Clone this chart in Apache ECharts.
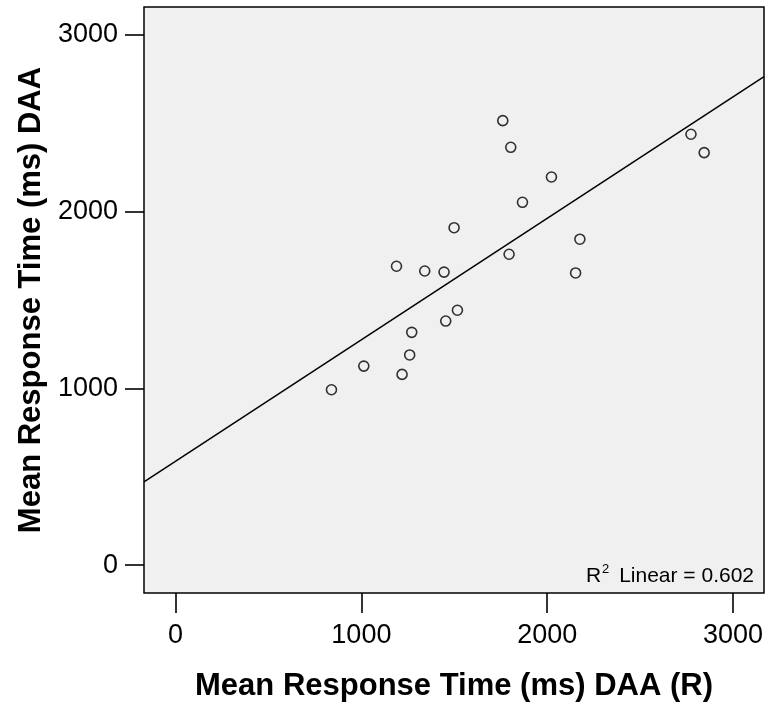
<!DOCTYPE html>
<html>
<head>
<meta charset="utf-8">
<script src="https://cdn.jsdelivr.net/npm/echarts@6/dist/echarts.min.js"></script>
<style>html,body{margin:0;padding:0;background:#fff}#c{width:770px;height:702px}</style>
</head>
<body>
<div id="c"></div>
<script>
var xValues = [1761, 1804, 2023, 1867, 1499, 2176, 1795, 2153, 1189, 1341, 1445, 1517, 1454, 1271, 1260, 1013, 1219, 839, 2774, 2845];
var yValues = [2515, 2364, 2196, 2053, 1909, 1844, 1759, 1653, 1691, 1664, 1658, 1442, 1381, 1317, 1189, 1126, 1079, 992, 2438, 2334];
var tickValues = [0, 1000, 2000, 3000];
var xTitle = 'Mean Response Time (ms) DAA (R)';
var yTitle = 'Mean Response Time (ms) DAA';
var r2Text = '0.602';
var xMin = -170, xMax = 3167, yMin = -158, yMax = 3158;

// least squares fit line
var n = xValues.length, sx = 0, sy = 0, sxx = 0, sxy = 0;
for (var i = 0; i < n; i++) { sx += xValues[i]; sy += yValues[i]; sxx += xValues[i]*xValues[i]; sxy += xValues[i]*yValues[i]; }
var slope = (n*sxy - sx*sy) / (n*sxx - sx*sx);
var intercept = (sy - slope*sx) / n;
var fitLine = [[xMin, intercept + slope*xMin], [xMax, intercept + slope*xMax]];
var pts = xValues.map(function(x, i){ return [x, yValues[i]]; });

var font = 'Liberation Sans, Arial, sans-serif';
var plain = function(v){ return String(v); };
var chart = echarts.init(document.getElementById('c'));
chart.setOption({
  animation: false,
  grid: { left: 144, right: 6, top: 7, bottom: 109, containLabel: false, outerBoundsMode: 'none',
          show: true, backgroundColor: '#f0f0f0', borderColor: '#000', borderWidth: 1.5 },
  xAxis: {
    type: 'value', min: xMin, max: xMax,
    name: xTitle, nameLocation: 'middle', nameGap: 78,
    nameTextStyle: { fontFamily: font, fontWeight: 'bold', fontSize: 31, color: '#000' },
    axisLine: { show: false, onZero: false },
    splitLine: { show: false },
    axisTick: { show: true, customValues: tickValues, length: 20, inside: false, lineStyle: { color: '#000', width: 1.6 } },
    axisLabel: { customValues: tickValues, formatter: plain, margin: 29, fontFamily: font, fontSize: 27, color: '#000' }
  },
  yAxis: {
    type: 'value', min: yMin, max: yMax,
    name: yTitle, nameLocation: 'middle', nameGap: 87,
    nameTextStyle: { fontFamily: font, fontWeight: 'bold', fontSize: 31, color: '#000' },
    axisLine: { show: false, onZero: false },
    splitLine: { show: false },
    axisTick: { show: true, customValues: tickValues, length: 19, inside: false, lineStyle: { color: '#000', width: 1.6 } },
    axisLabel: { customValues: tickValues, formatter: plain, margin: 26, fontFamily: font, fontSize: 27, color: '#000' }
  },
  series: [
    { type: 'line', data: fitLine, symbol: 'none', lineStyle: { color: '#000', width: 1.5 }, silent: true },
    { type: 'scatter', data: pts, symbol: 'circle', symbolSize: 10,
      itemStyle: { color: 'transparent', borderColor: '#000', borderWidth: 1.6 } }
  ],
  graphic: [{
    type: 'text', right: 16, top: 563,
    style: {
      text: '{a|R}{s|2}{a| Linear = ' + r2Text + '}',
      rich: {
        a: { fontFamily: font, fontSize: 21, fill: '#000', verticalAlign: 'bottom', lineHeight: 24 },
        s: { fontFamily: font, fontSize: 13, fill: '#000', verticalAlign: 'top', lineHeight: 24, padding: [0,4,10,1] }
      }
    }
  }]
});
</script>
</body>
</html>
